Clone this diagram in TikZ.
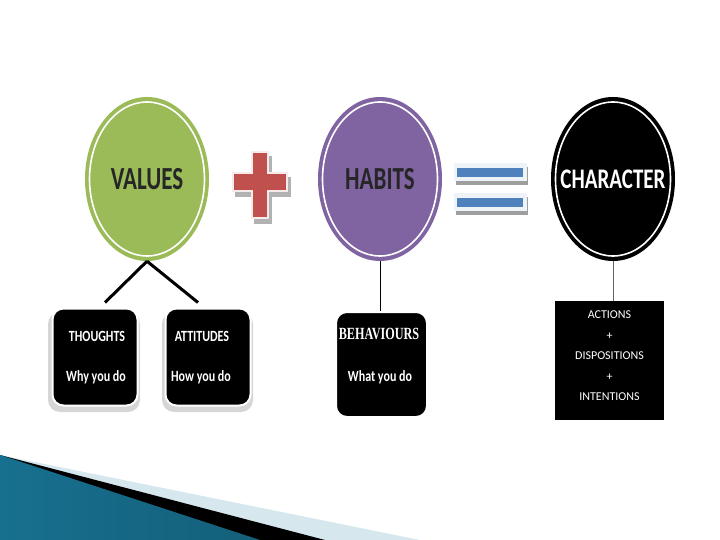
\documentclass[tikz,border=0pt]{standalone}
\usepackage{graphicx}
\usepackage{fontspec}
\setmainfont{Carlito}
\newfontfamily\timesbold{Liberation Serif}
\usetikzlibrary{shapes.geometric}

\definecolor{valuegreen}{HTML}{9BBB59}
\definecolor{habitpurple}{HTML}{8064A2}
\definecolor{plusred}{HTML}{C0504D}
\definecolor{barblue}{HTML}{4F81BD}
\definecolor{barframe}{HTML}{EEF3F8}
\definecolor{tealdark}{HTML}{17708F}
\definecolor{teallight}{HTML}{5DBCD9}
\definecolor{palestripe}{HTML}{D6E8EE}

\newcommand{\tall}[2][1.4]{\scalebox{1}[#1]{#2}}

\tikzset{
  bubble/.style={ellipse, inner sep=0pt, minimum width=124pt, minimum height=164pt},
  ring/.style={white, line width=1.6pt},
  bigword/.style={inner sep=0pt, font=\fontsize{23}{23}\selectfont\bfseries},
  roundbox/.style={fill=black, draw=white, line width=2pt, rounded corners=11pt, inner sep=0pt},
  glow/.style={fill=black!16, rounded corners=12pt},
  boxword/.style={text=white, inner sep=0pt, font=\fontsize{12}{12}\selectfont\bfseries},
}

\begin{document}
\begin{tikzpicture}[x=1pt, y=-1pt]
	%%%%% START %%%%%
	\useasboundingbox (0,0) rectangle (720,540);
	
	% swoosh in the corner
	\fill[palestripe] (0,455) -- (420,540) -- (0,540) -- cycle;
	\fill[black] (0,455) -- (325,540) -- (0,540) -- cycle;
	\shade[left color=tealdark, middle color=teallight, right color=tealdark!85!black] (0,455) -- (260,540) -- (0,540) -- cycle;
	
	% the three ovals
	\node[bubble, fill=valuegreen] (values) at (147,179) {};
	\draw[ring] (values.center) ellipse [x radius=57.5pt, y radius=77pt];
	\node[bigword, text=black!85] (valuesname) at (values.center) {\tall{VALUES}};
	
	\node[bubble, fill=habitpurple] (habits) at (380,179) {};
	\draw[ring] (habits.center) ellipse [x radius=57.5pt, y radius=77pt];
	\node[bigword, text=black!85] (habitsname) at (habits.center) {\tall{HABITS}};
	
	\node[bubble, fill=black] (character) at (613,179) {};
	\draw[ring] (character.center) ellipse [x radius=57.5pt, y radius=77pt];
	\node[bigword, font=\fontsize{21}{21}\selectfont\bfseries, text=white] (charactername) at (character.center) {\tall[1.35]{CHARACTER}};
	
	% plus
	\foreach \dx/\dy/\col/\edge in {3/5/black!30/black!30, 0/0/plusred/white!88!plusred}
		\filldraw[fill=\col, draw=\edge, line width=2.5pt, shift={(\dx,\dy)}]
			(252,152) -- (268,152) -- (268,173) -- (287,173) -- (287,191) -- (268,191)
			-- (268,218) -- (252,218) -- (252,191) -- (233,191) -- (233,173) -- (252,173) -- cycle;
	
	% equals
	\foreach \y in {163,193} {
		\fill[black!38] (456,\y+4) rectangle (528,\y+22);
		\fill[barframe] (454,\y) rectangle (527,\y+18);
		\fill[barblue] (457,\y+5) rectangle (523,\y+14);
	}
	
	% boxes underneath
	\fill[glow] (48,312) rectangle (140,412);
	\fill[glow] (162,312) rectangle (253,412);
	\node[roundbox, minimum width=85pt, minimum height=97pt] (thoughts) at (95,357) {};
	\node[roundbox, minimum width=85pt, minimum height=97pt] (attitudes) at (208,357) {};
	\node[roundbox, minimum width=91pt, minimum height=105pt] (behaviours) at (381.5,364.5) {};
	\node[fill=black, inner sep=0pt, minimum width=109pt, minimum height=119pt] (charbox) at (609.5,360.5) {};
	
	\node[boxword] (thoughtsname) at (97,336) {\tall[1.3]{THOUGHTS}};
	\node[boxword] (thoughtswhy) at (96,377) {\tall[1.3]{Why you do}};
	\node[boxword] (attitudesname) at (202,336) {\tall[1.3]{ATTITUDES}};
	\node[boxword] (attitudeshow) at (201,377) {\tall[1.3]{How you do}};
	\node[boxword, font=\fontsize{12.2}{12}\selectfont\timesbold\bfseries] (behavioursname) at (379,334) {\tall{BEHAVIOURS}};
	\node[boxword] (behaviourswhat) at (380,377) {\tall[1.3]{What you do}};
	\node[text=white, align=center, font=\fontsize{12}{20.5}\selectfont] (charlist) at (609.5,356)
		{ACTIONS\\+\\DISPOSITIONS\\+\\INTENTIONS};
	
	% links
	\draw[line width=3pt] (values.south) -- ([xshift=10pt, yshift=5pt]thoughts.north);
	\draw[line width=3pt] (values.south) -- ([xshift=-10pt, yshift=5pt]attitudes.north);
	\draw[line width=1pt] (habits.south) -- (habits.south |- behaviours.north);
	\draw[line width=1pt, black!60] (character.south) -- (character.south |- charbox.north);
	
	%%%%% END %%%%%
\end{tikzpicture}
\end{document}
